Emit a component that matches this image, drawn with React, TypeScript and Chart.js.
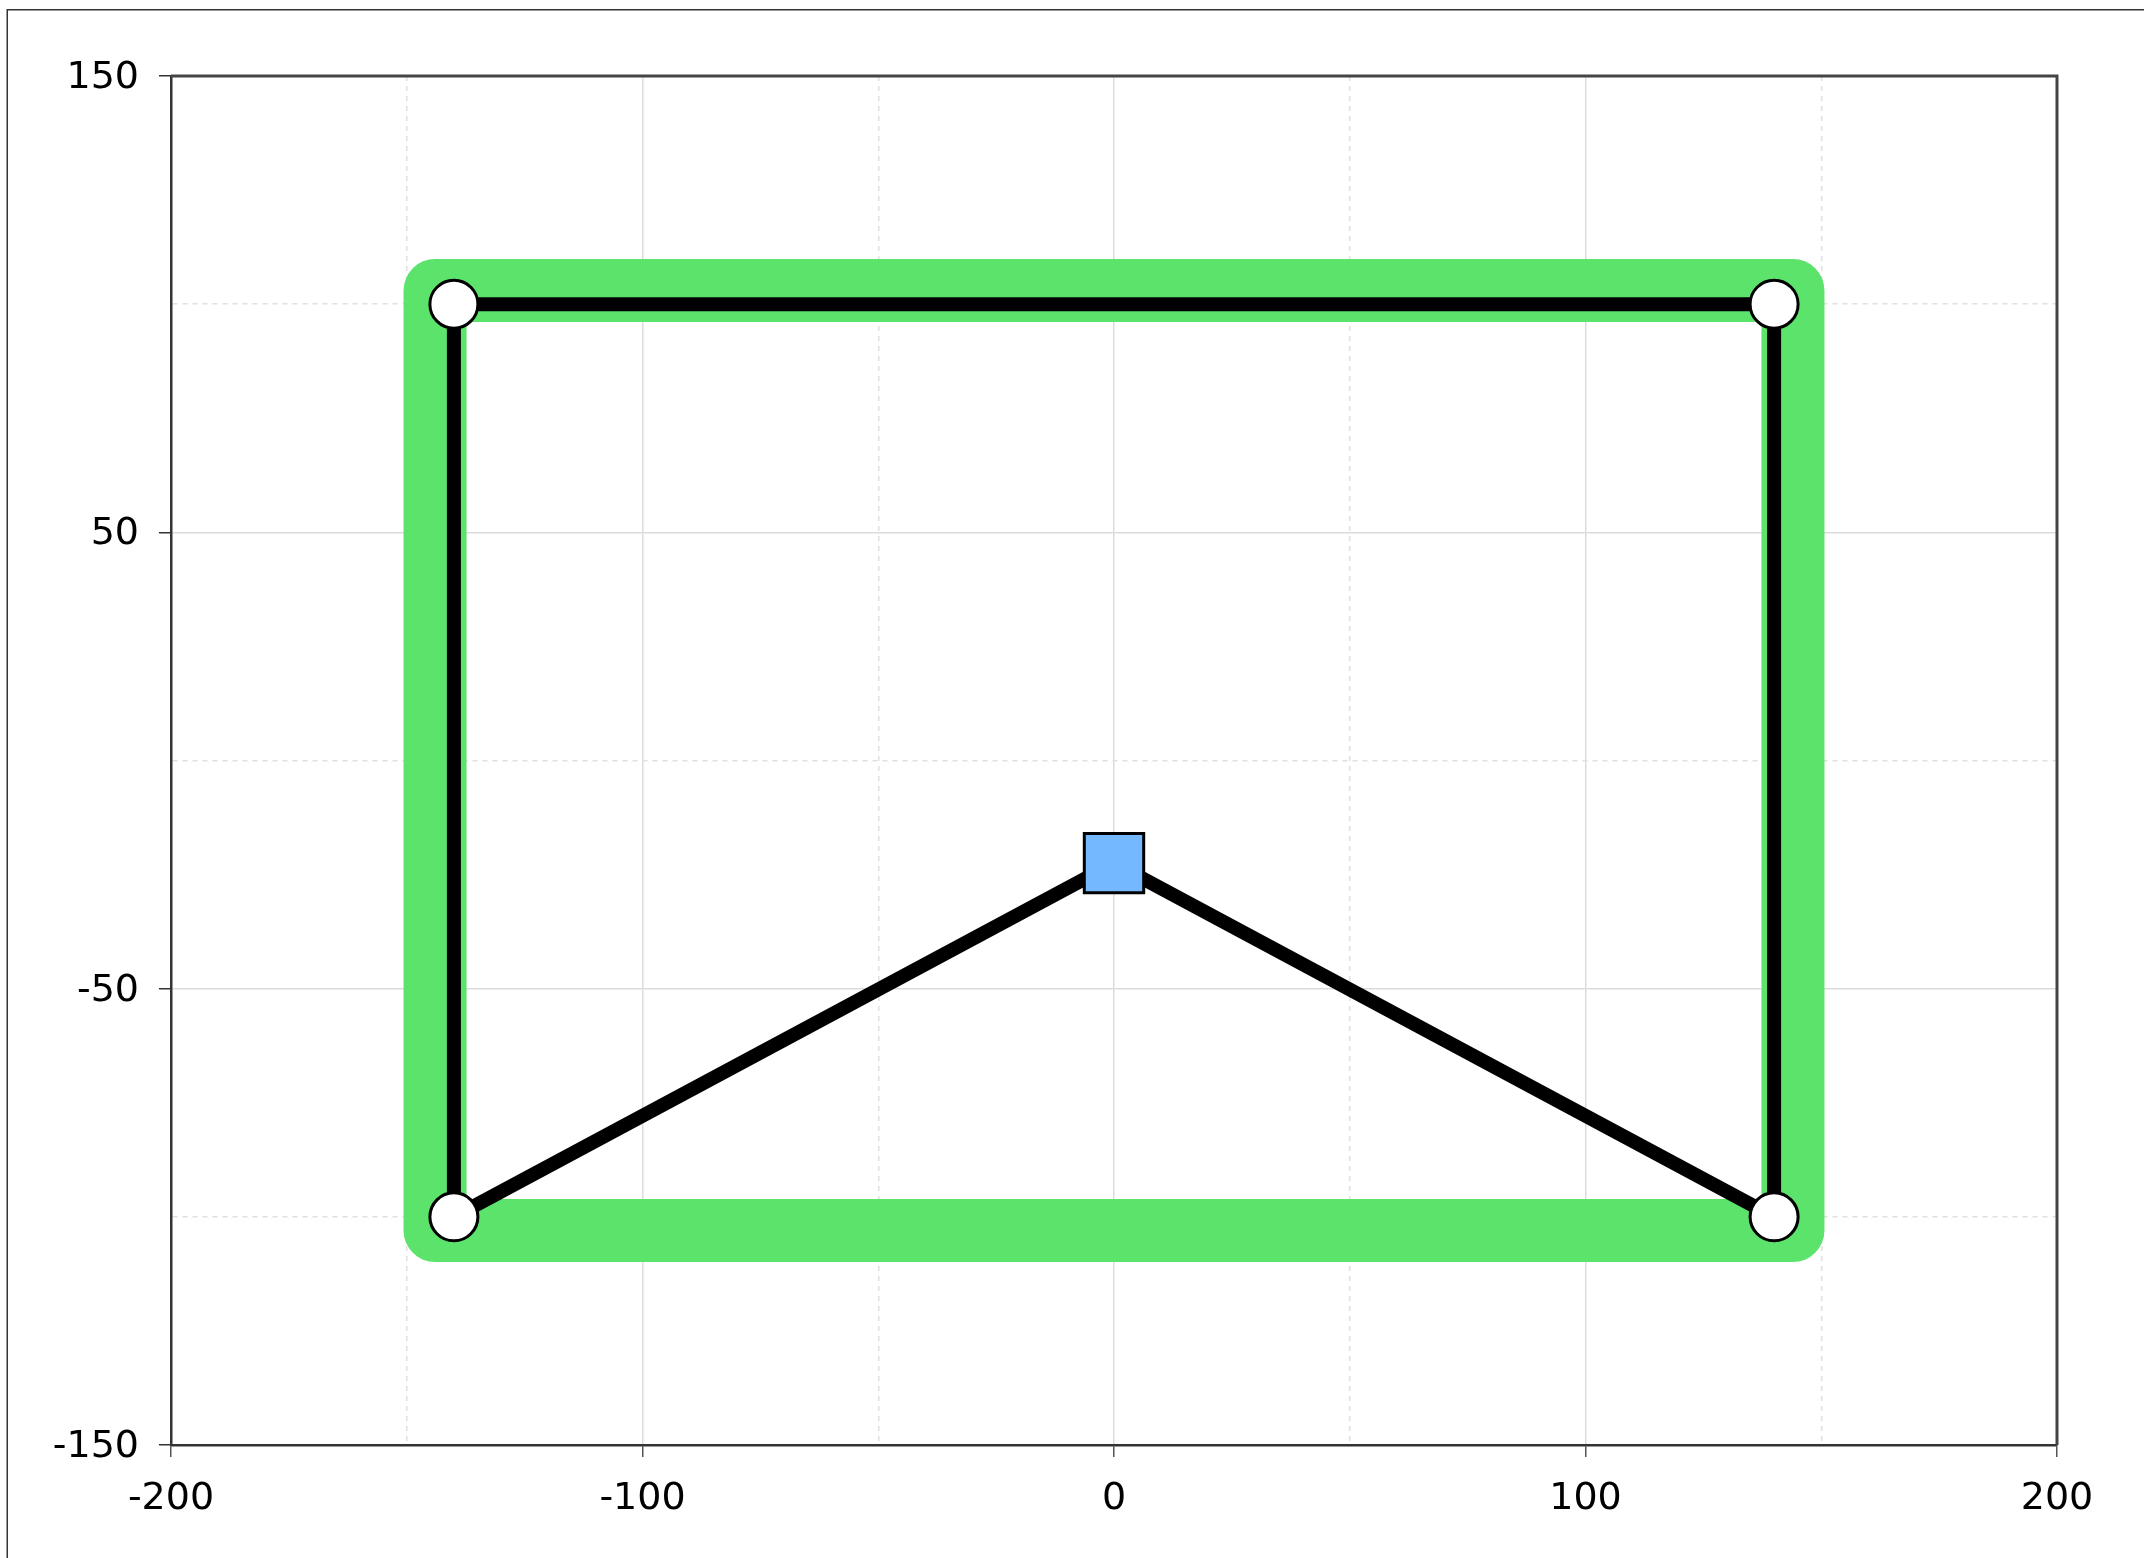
import React, { useEffect, useRef } from 'react';
import { Chart, registerables } from 'chart.js';

Chart.register(...registerables);

// Axis tick labels (major ticks); minor gridlines sit halfway between them
const xTickLabels = [-200, -100, 0, 100, 200];
const yTickLabels = [-150, -50, 50, 150];

// Thick green rounded band (closed loop)
const bandX = [-144, 144, 144, -144, -144];
const bandY = [103, 103, -103, -103, 103];

// Black connecting path
const pathX = [-140, -140, 140, 140, 0, -140];
const pathY = [-100, 100, 100, -100, -22.5, -100];

// Nodes
const nodeX = [-140, -140, 140, 140, 0];
const nodeY = [-100, 100, 100, -100, -22.5];
const nodeShape = ['circle', 'circle', 'circle', 'circle', 'rect'];
const nodeFill = ['#ffffff', '#ffffff', '#ffffff', '#ffffff', '#74b9ff'];
const nodeRadius = [24, 24, 24, 24, 42];

const FONT = 'Verdana, "DejaVu Sans", sans-serif';

const toPoints = (xs: number[], ys: number[]) => xs.map((x, i) => ({ x, y: ys[i] }));

const framePlugin = {
  id: 'frame',
  beforeDatasetsDraw(chart: any) {
    const { ctx, chartArea } = chart;
    const { left, top, right, bottom } = chartArea;
    ctx.save();
    ctx.strokeStyle = '#444444';
    ctx.lineWidth = 3;
    ctx.beginPath();
    ctx.moveTo(left, top);
    ctx.lineTo(right, top);
    ctx.lineTo(right, bottom);
    ctx.stroke();
    ctx.strokeStyle = '#333333';
    ctx.lineWidth = 1.5;
    ctx.beginPath();
    ctx.moveTo(7.25, chart.height);
    ctx.lineTo(7.25, 9.75);
    ctx.lineTo(chart.width, 9.75);
    ctx.stroke();
    ctx.restore();
  },
};

export default function App() {
  const canvasRef = useRef<HTMLCanvasElement | null>(null);

  useEffect(() => {
    if (!canvasRef.current) return;
    const isMajorX = (v: number) => xTickLabels.includes(v);
    const isMajorY = (v: number) => yTickLabels.includes(v);

    const chart = new Chart(canvasRef.current, {
      type: 'scatter',
      data: {
        datasets: [
          {
            label: 'nodes',
            data: toPoints(nodeX, nodeY),
            showLine: false,
            pointStyle: nodeShape as any,
            pointRadius: nodeRadius,
            pointBackgroundColor: nodeFill,
            pointBorderColor: '#000000',
            pointBorderWidth: 3,
            order: 0,
          },
          {
            label: 'path',
            data: toPoints(pathX, pathY),
            showLine: true,
            borderColor: '#000000',
            borderWidth: 14,
            pointRadius: 0,
            tension: 0,
            fill: false,
            borderJoinStyle: 'miter',
            order: 1,
          },
          {
            label: 'band',
            data: toPoints(bandX, bandY),
            showLine: true,
            borderColor: '#5be36c',
            borderWidth: 63,
            pointRadius: 0,
            tension: 0,
            fill: false,
            borderJoinStyle: 'round',
            borderCapStyle: 'round',
            order: 2,
          },
        ] as any,
      },
      plugins: [framePlugin],
      options: {
        animation: false,
        responsive: true,
        maintainAspectRatio: false,
        events: [],
        layout: { padding: { left: 0, top: 76, right: 87, bottom: 0 } },
        plugins: {
          legend: { display: false },
          tooltip: { enabled: false },
        },
        scales: {
          x: {
            type: 'linear',
            min: -200,
            max: 200,
            afterFit: (scale: any) => {
              scale.height = 113;
            },
            ticks: {
              stepSize: 50,
              autoSkip: false,
              maxRotation: 0,
              padding: 19,
              color: '#000000',
              font: { family: FONT, size: 38 },
              callback: (v: any) => (isMajorX(Number(v)) ? String(v) : ''),
            },
            grid: {
              color: (c: any) => (c.tick && isMajorX(c.tick.value) ? '#dcdcdc' : '#e0e0e0'),
              lineWidth: 1.5,
              tickLength: 12,
              tickColor: (c: any) => (c.tick && isMajorX(c.tick.value) ? '#555555' : 'rgba(0,0,0,0)'),
              tickWidth: 1.5,
            },
            border: {
              display: true,
              color: '#333333',
              width: 2.5,
              dash: (c: any) => (c.tick && !isMajorX(c.tick.value) ? [5, 5] : []),
            } as any,
          },
          y: {
            type: 'linear',
            min: -150,
            max: 150,
            afterFit: (scale: any) => {
              scale.width = 171;
            },
            ticks: {
              stepSize: 50,
              autoSkip: false,
              padding: 20,
              labelOffset: 2,
              color: '#000000',
              font: { family: FONT, size: 38 },
              callback: (v: any) => (isMajorY(Number(v)) ? String(v) : ''),
            },
            grid: {
              color: (c: any) => (c.tick && isMajorY(c.tick.value) ? '#dcdcdc' : '#e0e0e0'),
              lineWidth: 1.5,
              tickLength: 12,
              tickColor: (c: any) => (c.tick && isMajorY(c.tick.value) ? '#333333' : 'rgba(0,0,0,0)'),
              tickWidth: 1.5,
            },
            border: {
              display: true,
              color: '#333333',
              width: 2.5,
              dash: (c: any) => (c.tick && !isMajorY(c.tick.value) ? [5, 5] : []),
            } as any,
          },
        },
      } as any,
    });
    return () => chart.destroy();
  }, []);

  return (
    <div
      style={{
        position: 'absolute',
        left: 0,
        top: 0,
        width: 2144,
        height: 1558,
        background: '#ffffff',
      }}
    >
      <canvas ref={canvasRef} />
    </div>
  );
}
